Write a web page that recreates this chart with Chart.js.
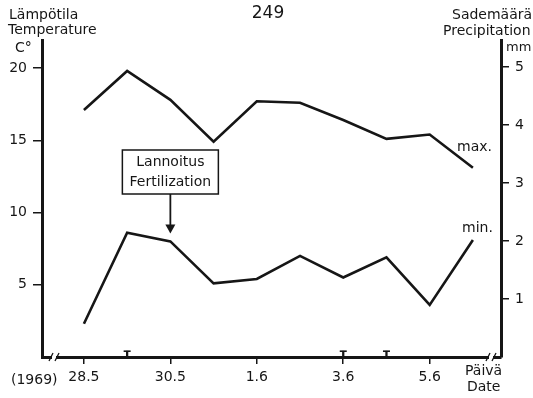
<!DOCTYPE html>
<html><head><meta charset="utf-8">
<script src="https://cdn.jsdelivr.net/npm/chart.js@4"></script>
<style>html,body{margin:0;padding:0;background:#fff}canvas{display:block}</style>
</head><body>
<canvas id="c" width="533" height="398"></canvas>
<script>
const dateLabels = ['28.5','29.5','30.5','31.5','1.6','2.6','3.6','4.6','5.6','6.6'];
const tickDays = [0, 2, 4, 6, 8];
const maxTemp = [17.1, 19.8, 17.8, 14.9, 17.7, 17.6, 16.4, 15.1, 15.4, 13.1];
const minTemp = [2.3, 8.6, 8.0, 5.1, 5.4, 7.0, 5.5, 6.9, 3.6, 8.1];
const precipMm = [0, 0.1, 0, 0, 0, 0, 0.1, 0.1, 0, 0];
const tempTicks = [5, 10, 15, 20];
const precipTicks = [1, 2, 3, 4, 5];

const INK = '#161616';
const FAMILY = "'DejaVu Sans', 'Liberation Sans', Arial, sans-serif";
Chart.defaults.font.family = FAMILY;
Chart.defaults.font.size = 14;
Chart.defaults.color = INK;

const canvas = document.getElementById('c');

const pts = arr => arr.map((v, i) => ({ x: i, y: v }));
const ptsPos = arr => arr.map((v, i) => ({ x: i, y: v > 0 ? v : null }));

const decor = {
  id: 'decor',
  afterDraw(chart) {
    const c = chart.ctx, xs = chart.scales.x, ys = chart.scales.y, a = chart.chartArea;
    c.save();
    c.fillStyle = INK; c.strokeStyle = INK;
    c.textBaseline = 'middle';
    const txt = (s, x, y, align, size) => {
      c.font = (size || 14) + 'px ' + FAMILY;
      c.textAlign = align || 'left';
      c.fillText(s, x, y);
    };
    txt('249', 268, 14, 'center', 17);
    txt('Lämpötila', 9, 15, 'left');
    txt('Temperature', 8, 30, 'left');
    txt('C°', 15, 48, 'left');
    txt('Sademäärä', 452, 15, 'left');
    txt('Precipitation', 443, 31, 'left');
    txt('mm', 506, 48, 'left', 13);
    txt('(1969)', 11, 380, 'left');
    txt('Päivä', 465, 371, 'left');
    txt('Date', 467, 387, 'left');
    txt('max.', 457, 147, 'left');
    txt('min.', 462, 228, 'left');

    // annotation box + arrow
    const cx = xs.getPixelForValue(2);
    const bx = cx - 48, bw = 96, by = 150, bh = 44;
    c.lineWidth = 1.5;
    c.strokeRect(bx, by, bw, bh);
    txt('Lannoitus', cx, 162, 'center');
    txt('Fertilization', cx, 182, 'center');
    const tip = ys.getPixelForValue(minTemp[2]) - 8;
    c.lineWidth = 1.8;
    c.beginPath(); c.moveTo(cx, by + bh); c.lineTo(cx, tip - 7); c.stroke();
    c.beginPath(); c.moveTo(cx - 5, tip - 9); c.lineTo(cx + 5, tip - 9); c.lineTo(cx, tip); c.closePath(); c.fill();

    // axis breaks
    const yb = a.bottom;
    [54, 491].forEach(x => {
      c.fillStyle = '#fff';
      c.fillRect(x - 2, yb - 3, 4, 6);
      c.strokeStyle = INK; c.lineWidth = 1.3;
      c.beginPath();
      c.moveTo(x - 5, yb + 4); c.lineTo(x - 1, yb - 4);
      c.moveTo(x + 1, yb + 4); c.lineTo(x + 5, yb - 4);
      c.stroke();
    });
    c.restore();
  }
};

const gridOpts = (len) => ({ display: true, drawOnChartArea: false, drawTicks: true, tickLength: len, color: INK, lineWidth: 1.5, offset: false });

new Chart(canvas, {
  type: 'line',
  data: {
    datasets: [
      { label: 'max.', data: pts(maxTemp), yAxisID: 'y', borderColor: INK, borderWidth: 2.6, pointRadius: 0, tension: 0, fill: false },
      { label: 'min.', data: pts(minTemp), yAxisID: 'y', borderColor: INK, borderWidth: 2.6, pointRadius: 0, tension: 0, fill: false },
      { type: 'bar', label: 'Sademäärä', data: ptsPos(precipMm), yAxisID: 'y1', backgroundColor: INK, barThickness: 1.6 },
      { label: 'cap', data: ptsPos(precipMm), yAxisID: 'y1', showLine: false, pointStyle: 'line', pointRadius: 3.5, pointBorderWidth: 1.6, pointBorderColor: INK, borderColor: INK }
    ]
  },
  options: {
    responsive: false, animation: false, devicePixelRatio: 1,
    layout: { padding: { top: 40, left: 0, right: 0, bottom: 0 } },
    plugins: { legend: { display: false }, tooltip: { enabled: false } },
    scales: {
      x: {
        type: 'linear', min: -0.97, max: 9.65, offset: false,
        grid: gridOpts(7), border: { display: true, color: INK, width: 3 },
        afterBuildTicks: s => { s.ticks = tickDays.map(v => ({ value: v })); },
        ticks: { callback: v => dateLabels[v] ?? '', padding: 5, maxRotation: 0, autoSkip: false, color: INK },
        afterFit: s => { s.height = 41; }
      },
      y: {
        type: 'linear', position: 'left', min: 0, max: 21.94,
        grid: gridOpts(9), border: { display: true, color: INK, width: 3 },
        afterBuildTicks: s => { s.ticks = tempTicks.map(v => ({ value: v })); },
        ticks: { padding: 6, color: INK },
        afterFit: s => { s.width = 42; }
      },
      y1: {
        type: 'linear', position: 'right', min: 0, max: 5.466,
        grid: gridOpts(8), border: { display: true, color: INK, width: 3 },
        afterBuildTicks: s => { s.ticks = precipTicks.map(v => ({ value: v })); },
        ticks: { padding: 6, color: INK },
        afterFit: s => { s.width = 32; }
      }
    }
  },
  plugins: [decor]
});
</script>
</body></html>
